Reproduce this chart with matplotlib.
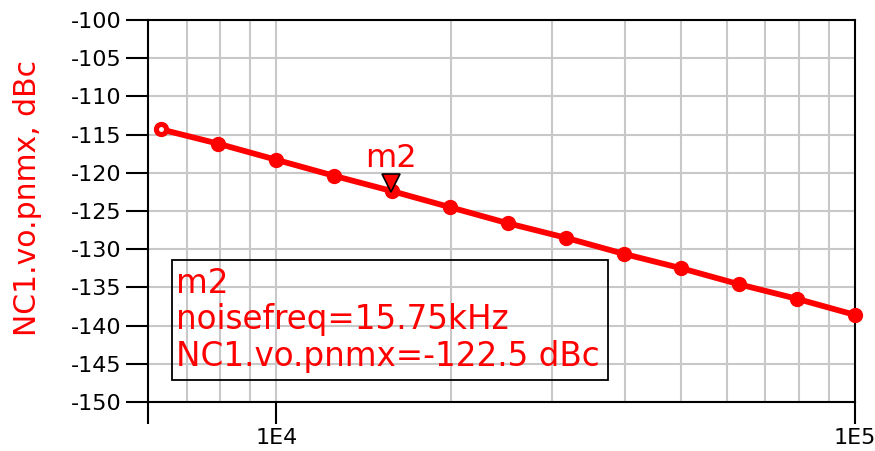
import matplotlib
matplotlib.use("Agg")
import matplotlib.pyplot as plt
from matplotlib.ticker import FixedLocator, NullFormatter

# phase noise sweep points
freq = [6310, 7943, 10000, 12589, 15849, 19953, 25119, 31623, 39811,
        50119, 63096, 79433, 100000]
pnmx = [-114.3, -116.2, -118.3, -120.4, -122.4, -124.5, -126.6, -128.5,
        -130.6, -132.5, -134.6, -136.5, -138.6]

# marker m2
m2_freq = 15750
m2_val = -122.5
m2_lines = ["m2", "noisefreq=15.75kHz", "NC1.vo.pnmx=-122.5 dBc"]

yticks = [-100, -105, -110, -115, -120, -125, -130, -135, -140, -145, -150]
xgrid = [7000, 8000, 9000, 10000, 20000, 30000, 40000, 50000, 60000,
         70000, 80000, 90000]

RED = "#ff0000"
plt.rcParams["font.family"] = ["DejaVu Sans"]

fig = plt.figure(figsize=(8.75, 4.51), dpi=100)
ax = fig.add_axes([148 / 875, 49 / 451, 707 / 875, 382 / 451])

ax.set_xscale("log")
ax.set_xlim(6000, 100000)
ax.set_ylim(-150, -100)

# grid
for g in xgrid:
    ax.axvline(g, color="#c8c8c8", lw=1.5, zorder=0)
for t in yticks:
    ax.axhline(t, color="#c8c8c8", lw=1.5, zorder=0)

# trace
ax.plot(freq, pnmx, color=RED, lw=4.2, marker="o", ms=10, zorder=3,
        clip_on=False)
ax.plot(freq[0], pnmx[0], marker="o", ms=2.5, color="white", zorder=4,
        clip_on=False)

# marker triangle + label
ax.plot(m2_freq, m2_val, marker="v", ms=13, mfc=RED, mec="black", mew=1.2,
        zorder=5, transform=ax.transData + matplotlib.transforms.ScaledTranslation(
            0, 9 / 100, fig.dpi_scale_trans))
ax.annotate("m2", xy=(m2_freq, m2_val), xytext=(0, 18), textcoords="offset points",
            ha="center", va="baseline", color=RED, fontsize=23)

# marker readout box
box = plt.Rectangle((0.034, 0.0576), 0.617, 0.3144, transform=ax.transAxes,
                    fill=False, ec="black", lw=1.3, zorder=6)
ax.add_patch(box)
for txt, yb in zip(m2_lines, [0.285, 0.191, 0.094]):
    ax.text(0.039, yb, txt, transform=ax.transAxes, color=RED, fontsize=23.5,
            va="baseline", ha="left", zorder=7)

# axes styling
for s in ax.spines.values():
    s.set_linewidth(1.5)
    s.set_color("black")

ax.yaxis.set_major_locator(FixedLocator(yticks))
ax.set_yticklabels([str(t) for t in yticks])
ax.xaxis.set_major_locator(FixedLocator([6000, 10000, 100000]))
ax.xaxis.set_minor_locator(FixedLocator([]))
ax.set_xticklabels(["", "1E4", "1E5"])
ax.xaxis.set_minor_formatter(NullFormatter())
ax.tick_params(axis="both", which="major", direction="out", length=16,
               width=1.5, labelsize=16, pad=3, color="black")

ax.set_ylabel("NC1.vo.pnmx, dBc", color=RED, fontsize=21.5)
ax.yaxis.set_label_coords(-0.15, 0.535)

fig.savefig("out.png", dpi=100)
